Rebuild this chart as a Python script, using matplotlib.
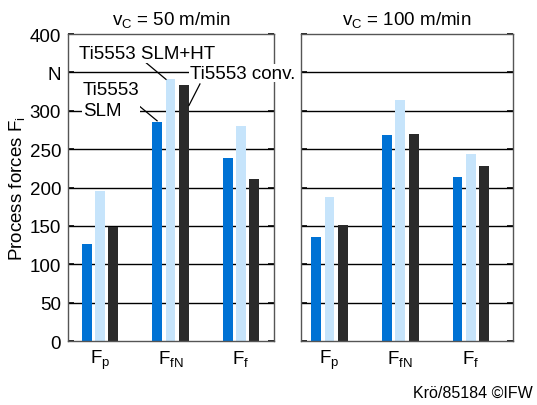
import numpy as np
import matplotlib
matplotlib.use("Agg")
import matplotlib.pyplot as plt

plt.rcParams['font.family'] = ['Liberation Sans', 'DejaVu Sans']
plt.rcParams['mathtext.fontset'] = 'custom'
plt.rcParams['mathtext.rm'] = 'Liberation Sans'
plt.rcParams['mathtext.it'] = 'Liberation Sans'

# process forces in N, order: Fp, FfN, Ff
forces = [r'$\mathregular{F_p}$', r'$\mathregular{F_{fN}}$', r'$\mathregular{F_f}$']
slm_50 = [127, 286, 238]
slm_ht_50 = [196, 342, 280]
conv_50 = [148, 334, 211]
slm_100 = [135, 269, 214]
slm_ht_100 = [188, 314, 244]
conv_100 = [151, 270, 228]

yticks = [0, 50, 100, 150, 200, 250, 300, 350, 400]
yticklabels = ['0', '50', '100', '150', '200', '250', '300', 'N', '400']

c_slm = '#0072d4'
c_ht = '#c6e4fb'
c_conv = '#2a2a2a'
fs = 13.5

fig = plt.figure(figsize=(5.37, 4.06), dpi=100)
ax1 = fig.add_axes([0.1266, 0.1576, 0.3836, 0.756])
ax2 = fig.add_axes([0.5605, 0.1576, 0.3948, 0.756])

x = np.arange(len(forces))
w = 0.14
off = 0.19


def draw(ax, a, b, c, xlim):
    for yv in yticks[1:-1]:
        ax.axhline(yv, color='black', lw=1.0, zorder=0)
    ax.bar(x - off, a, w, color=c_slm, zorder=2)
    ax.bar(x, b, w, color=c_ht, zorder=2)
    ax.bar(x + off, c, w, color=c_conv, zorder=2)
    ax.set_ylim(0, 400)
    ax.set_xlim(*xlim)
    ax.set_xticks(x)
    ax.set_xticklabels(forces, fontsize=fs)
    ax.tick_params(axis='x', length=0, pad=5)
    ax.set_yticks(yticks)
    ax.tick_params(axis='y', direction='in', length=4, width=1.2,
                   left=True, right=True)
    for s in ax.spines.values():
        s.set_color('#555555')
        s.set_linewidth(1.0)


draw(ax1, slm_50, slm_ht_50, conv_50, (-0.454, 2.468))
draw(ax2, slm_100, slm_ht_100, conv_100, (-0.403, 2.595))

ax1.set_yticklabels(yticklabels, fontsize=fs)
ax1.tick_params(axis='y', pad=5)
ax2.set_yticklabels([])

ax1.set_title(r'$\mathregular{v_C}$ = 50 m/min', fontsize=fs, pad=7)
ax2.set_title(r'$\mathregular{v_C}$ = 100 m/min', fontsize=fs, pad=7)
ax1.set_ylabel(r'Process forces $\mathregular{F_i}$', fontsize=fs, labelpad=2)

# material labels with leader lines
box = dict(facecolor='white', edgecolor='none', pad=0.5)
ax1.plot([0.61, 0.936], [366, 341], color='black', lw=0.9, zorder=3)
ax1.plot([1.418, 1.262], [335, 307], color='black', lw=0.9, zorder=3)
ax1.plot([0.468, 0.81], [313, 287], color='black', lw=0.9, zorder=3)
ax1.text(0.667, 375, 'Ti5553 SLM+HT', ha='center', va='center',
         fontsize=fs, bbox=box, zorder=5)
ax1.text(1.277, 349, 'Ti5553 conv.', ha='left', va='center',
         fontsize=fs, bbox=box, zorder=5, clip_on=False)
ax1.text(-0.24, 314, 'Ti5553\nSLM', ha='left', va='center',
         fontsize=fs, bbox=box, linespacing=1.25, zorder=5)

fig.text(0.993, 0.032, 'Krö/85184 ©IFW', ha='right', va='center', fontsize=11.5)

fig.savefig('out.png', dpi=100)
